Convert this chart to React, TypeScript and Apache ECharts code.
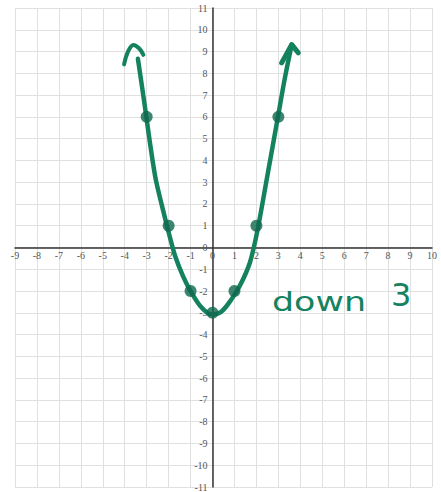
import React, { useEffect, useRef } from "react";
import * as echarts from "echarts";

// Grid extent and tick values
const xMin = -9;
const xMax = 10;
const yMin = -11;
const yMax = 11;

// Plotted points of y = x^2 - 3
const pointXs = [-3, -2, -1, 0, 1, 2, 3];
const pointYs = [6, 1, -2, -3, -2, 1, 6];

// Hand-sketched curve through the points
const curveXs = [-3.4, -3.1, -2.85, -2.6, -2.3, -2.0, -1.7, -1.35, -1.0, -0.55, -0.05, 0.4, 0.85, 1.25, 1.7, 2.05, 2.5, 2.98, 3.3, 3.61];
const curveYs = [8.67, 6.6, 4.8, 3.2, 1.9, 0.7, -0.4, -1.3, -2.0, -2.7, -3.08, -2.95, -2.4, -1.75, -0.7, 0.8, 3.3, 6.0, 7.8, 9.32];

// Arrowheads at both ends of the curve
const leftArrowXs = [-4.03, -3.85, -3.6, -3.35, -3.15];
const leftArrowYs = [8.41, 9.0, 9.3, 9.15, 8.85];
const rightArrowXs = [3.15, 3.61, 3.91];
const rightArrowYs = [8.48, 9.32, 8.94];

const note = "down";
const noteShift = "3";

const PEN = "#14825f";
const DOT = "#0f684d";

// Plot box in pixels, used to pin each axis onto the other's zero
const GRID = { left: 15, right: 9, top: 8, bottom: 5 };
const W = 441;
const H = 492;

const zip = (xs: number[], ys: number[]) => xs.map((x, i) => [x, ys[i]]);

export default function App() {
  const ref = useRef<HTMLDivElement>(null);

  useEffect(() => {
    if (!ref.current) return;
    const chart = echarts.init(ref.current, null, { renderer: "svg" });

    const plotW = W - GRID.left - GRID.right;
    const plotH = H - GRID.top - GRID.bottom;
    // distance from the plot's left edge to x = 0, and from its bottom edge to y = 0
    const xZeroOffset = (plotW * (0 - xMin)) / (xMax - xMin);
    const yZeroOffset = (plotH * (0 - yMin)) / (yMax - yMin);

    const labelStyle = {
      color: "#555",
      fontFamily: "Liberation Serif",
      fontSize: 10,
    };

    chart.setOption({
      animation: false,
      backgroundColor: "#fff",
      grid: GRID,
      xAxis: {
        type: "value",
        min: xMin,
        max: xMax,
        interval: 1,
        position: "bottom",
        offset: -yZeroOffset,
        axisLine: { onZero: false, lineStyle: { color: "#333", width: 1.5 } },
        axisTick: { show: false },
        axisLabel: { ...labelStyle, margin: 3 },
        splitLine: { show: true, lineStyle: { color: "#e0e0e0", width: 1 } },
      },
      yAxis: {
        type: "value",
        min: yMin,
        max: yMax,
        interval: 1,
        position: "left",
        offset: -xZeroOffset,
        axisLine: { onZero: false, lineStyle: { color: "#333", width: 1.5 } },
        axisTick: { show: false },
        axisLabel: { ...labelStyle, margin: 5 },
        splitLine: { show: true, lineStyle: { color: "#e0e0e0", width: 1 } },
      },
      series: [
        {
          type: "line",
          data: zip(curveXs, curveYs),
          smooth: 0.3,
          showSymbol: false,
          symbol: "none",
          lineStyle: { color: PEN, width: 4.5, cap: "round", join: "round" },
          z: 3,
        },
        {
          type: "line",
          data: zip(leftArrowXs, leftArrowYs),
          smooth: 0.4,
          symbol: "none",
          lineStyle: { color: PEN, width: 4, cap: "round", join: "round" },
          z: 3,
        },
        {
          type: "line",
          data: zip(rightArrowXs, rightArrowYs),
          symbol: "none",
          lineStyle: { color: PEN, width: 5, cap: "round", join: "round" },
          z: 3,
        },
        {
          type: "scatter",
          data: zip(pointXs, pointYs),
          symbolSize: 12,
          itemStyle: { color: DOT },
          z: 4,
        },
      ],
      graphic: [
        {
          type: "text",
          x: 272,
          y: 302,
          scaleX: 1.34,
          style: {
            text: note,
            fill: PEN,
            fontFamily: "DejaVu Sans",
            fontSize: 26,
            verticalAlign: "middle",
            align: "left",
          },
          z: 10,
        },
        {
          type: "text",
          x: 391,
          y: 295,
          style: {
            text: noteShift,
            fill: PEN,
            fontFamily: "DejaVu Sans",
            fontSize: 32,
            verticalAlign: "middle",
            align: "left",
          },
          z: 10,
        },
      ],
    });

    return () => chart.dispose();
  }, []);

  return (
    <div
      ref={ref}
      style={{ position: "absolute", left: 0, top: 0, width: W, height: H }}
    />
  );
}
